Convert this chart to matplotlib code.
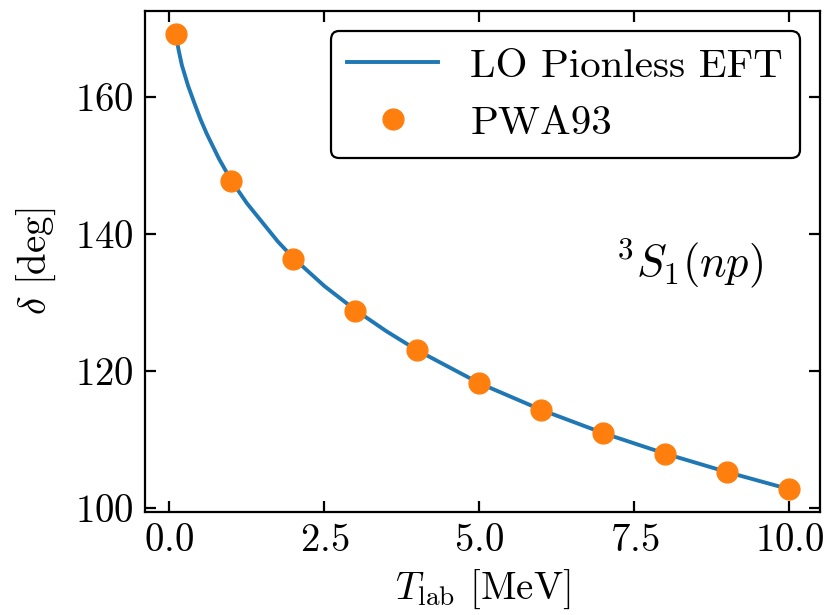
import matplotlib as mpl
mpl.use('Agg')
import matplotlib.pyplot as plt

# LaTeX-like look with the bundled Computer Modern fonts
plt.rcParams.update({
    'font.family': 'serif',
    'font.serif': ['cmr10'],
    'mathtext.fontset': 'cm',
    'axes.formatter.use_mathtext': True,
    'font.size': 28,
    'axes.linewidth': 1.6,
    'xtick.direction': 'in',
    'ytick.direction': 'in',
    'xtick.top': True,
    'ytick.right': True,
    'xtick.major.size': 8,
    'ytick.major.size': 8,
    'xtick.major.width': 1.6,
    'ytick.major.width': 1.6,
    'xtick.major.pad': 8,
    'ytick.major.pad': 8,
})

# LO pionless EFT curve
t_eft = [0.1, 0.15, 0.2, 0.3, 0.4, 0.5, 0.6, 0.8, 1.0, 1.25, 1.5, 1.75,
         2.0, 2.5, 3.0, 3.5, 4.0, 5.0, 6.0, 7.0, 8.0, 9.0, 10.0]
delta_eft = [169.3, 166.8, 164.7, 161.7, 159.2, 156.8, 154.7, 151.0, 147.8,
             144.5, 141.7, 138.9, 136.5, 132.4, 128.9, 125.8, 123.0, 118.2,
             114.3, 110.9, 107.9, 105.2, 102.7]

# PWA93 phase shifts
t_pwa = [0.1, 1, 2, 3, 4, 5, 6, 7, 8, 9, 10]
delta_pwa = [169.2, 147.7, 136.4, 128.8, 123.0, 118.2, 114.3, 110.9, 107.8,
             105.2, 102.8]

fig = plt.figure(figsize=(8.27, 6.15), dpi=100)
ax = fig.add_axes([145/827, 1-512/615, 675/827, 501/615])

ax.plot(t_eft, delta_eft, '-', color='#1f77b4', lw=2.8, label='LO Pionless EFT')
ax.plot(t_pwa, delta_pwa, 'o', color='#ff7f0e', ms=15, label='PWA93')

ax.set_xticks([0.0, 2.5, 5.0, 7.5, 10.0])
ax.set_yticks([100, 120, 140, 160])
ax.set_xlabel(r'$T_{\rm lab}$ [MeV]', labelpad=6)
ax.set_ylabel(r'$\delta$ [deg]', labelpad=12)

ax.text(0.807, 0.497, r'$^3S_1(np)$', transform=ax.transAxes,
        ha='center', va='center', fontsize=32)

leg = ax.legend(loc='upper right', framealpha=1, edgecolor='black',
                fancybox=True, handlelength=2.2, borderaxespad=0.5,
                fontsize=29.5)
leg.get_frame().set_linewidth(1.6)

fig.savefig('out.png', dpi=100)
